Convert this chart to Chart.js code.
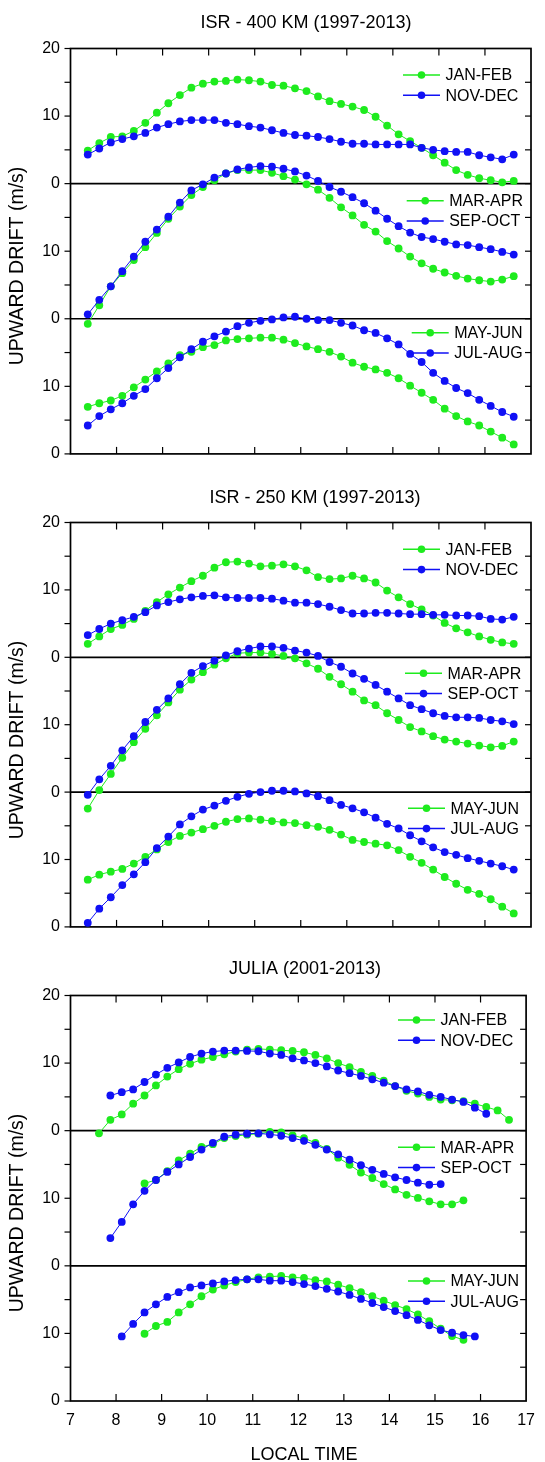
<!DOCTYPE html>
<html><head><meta charset="utf-8">
<script src="https://cdn.jsdelivr.net/npm/chart.js@4.4.1/dist/chart.umd.min.js"></script>
<style>
html,body{margin:0;padding:0;background:#fff;}
body{width:545px;height:1462px;position:relative;overflow:hidden;}
canvas{position:absolute;left:0;display:block;}
</style></head><body>
<canvas id="c1" width="545" height="474" style="top:0px"></canvas>
<canvas id="c2" width="545" height="473" style="top:474px"></canvas>
<canvas id="c3" width="545" height="515" style="top:947px"></canvas>
<script>
// ---- DATA ----
const localTime = [7.375,7.625,7.875,8.125,8.375,8.625,8.875,9.125,9.375,9.625,9.875,10.125,10.375,10.625,10.875,11.125,11.375,11.625,11.875,12.125,12.375,12.625,12.875,13.125,13.375,13.625,13.875,14.125,14.375,14.625,14.875,15.125,15.375,15.625,15.875,16.125,16.375,16.625];
const xTickLabels = ['7','8','9','10','11','12','13','14','15','16','17'];
const bandNames = [['JAN-FEB','NOV-DEC'],['MAR-APR','SEP-OCT'],['MAY-JUN','JUL-AUG']];
const bandOffsets = [40, 20, 0];
const panelTitles = ['ISR - 400 KM (1997-2013)','ISR - 250 KM (1997-2013)','JULIA (2001-2013)'];

const isr400JanFeb = [4.9,6.0,6.9,7.0,7.8,9.0,10.5,11.9,13.1,14.2,14.8,15.1,15.2,15.4,15.3,15.1,14.6,14.5,14.1,13.7,12.9,12.2,11.8,11.4,10.9,9.9,8.6,7.3,6.3,5.3,4.2,3.1,2.0,1.3,0.8,0.5,0.2,0.4];
const isr400NovDec = [4.3,5.2,6.1,6.6,7.0,7.5,8.3,8.8,9.2,9.4,9.4,9.4,9.0,8.8,8.5,8.3,7.9,7.5,7.2,7.1,6.9,6.6,6.2,5.9,5.9,5.8,5.8,5.8,5.8,5.3,5.0,4.8,4.7,4.7,4.2,3.9,3.6,4.3];
const isr400MarApr = [-0.75,2.0,4.8,6.75,8.7,10.6,12.7,14.8,16.6,18.3,19.5,20.5,21.5,22.0,22.0,22.0,21.6,21.1,20.6,19.9,19.1,17.9,16.5,15.3,13.9,12.9,11.5,10.4,9.2,8.2,7.4,6.85,6.35,5.95,5.7,5.5,5.8,6.3];
const isr400SepOct = [0.65,2.8,4.8,7.05,9.2,11.4,13.2,15.1,17.2,19.0,19.9,20.9,21.5,22.1,22.4,22.6,22.5,22.2,21.8,21.2,20.4,19.5,18.8,18.0,17.1,16.0,14.8,13.7,12.75,12.1,11.8,11.4,11.0,10.9,10.6,10.3,9.9,9.5];
const isr400MayJun = [6.97,7.5,7.9,8.6,9.85,11.0,12.2,13.4,14.6,15.1,15.8,16.1,16.8,17.0,17.1,17.2,17.2,16.9,16.4,15.9,15.5,15.1,14.4,13.5,12.9,12.5,12.0,11.2,10.1,9.05,8.0,6.7,5.6,4.8,4.2,3.3,2.4,1.4];
const isr400JulAug = [4.2,5.6,6.6,7.5,8.6,9.6,11.2,12.7,14.3,15.5,16.6,17.4,18.1,18.9,19.4,19.7,19.9,20.2,20.3,20.0,19.8,19.8,19.4,19.0,18.3,17.9,17.1,16.2,14.8,13.6,12.0,10.8,9.75,9.0,8.0,7.1,6.2,5.5];

const isr250JanFeb = [2.0,3.1,4.2,4.8,5.7,6.9,8.2,9.35,10.35,11.3,12.1,13.3,14.1,14.2,13.9,13.5,13.6,13.8,13.5,12.9,11.9,11.6,11.7,12.1,11.7,11.1,9.9,8.9,7.9,7.1,6.2,5.1,4.3,3.7,3.1,2.6,2.2,2.0];
const isr250NovDec = [3.3,4.2,5.0,5.5,6.0,6.7,7.7,8.2,8.6,8.9,9.1,9.2,8.9,8.8,8.8,8.8,8.7,8.4,8.1,8.1,7.9,7.5,7.0,6.5,6.5,6.6,6.6,6.5,6.4,6.4,6.3,6.3,6.2,6.2,6.1,5.7,5.6,6.0];
const isr250MarApr = [-2.45,0.3,2.7,5.1,7.4,9.4,11.4,13.3,15.2,16.7,17.8,18.9,19.85,20.6,20.7,20.7,20.5,20.2,19.85,19.1,18.3,17.1,16.0,14.9,13.6,12.9,11.7,10.7,9.65,9.0,8.3,7.8,7.5,7.2,6.9,6.65,6.85,7.5];
const isr250SepOct = [-0.4,1.9,3.9,6.2,8.3,10.4,12.2,13.9,16.0,17.7,18.7,19.5,20.3,20.9,21.3,21.6,21.6,21.4,21.0,20.7,20.2,19.3,18.6,17.6,16.8,15.9,14.9,13.9,12.9,12.3,11.7,11.3,11.1,11.1,11.0,10.7,10.5,10.1];
const isr250MayJun = [7.0,7.75,8.2,8.6,9.4,10.4,11.5,12.6,13.5,14.0,14.5,15.0,15.6,16.0,16.1,15.9,15.7,15.5,15.4,15.1,14.85,14.4,13.7,12.9,12.6,12.35,12.1,11.4,10.4,9.5,8.5,7.4,6.4,5.5,4.9,4.1,3.0,2.0];
const isr250JulAug = [0.6,2.7,4.4,6.2,7.8,9.6,11.7,13.4,15.2,16.4,17.4,18.0,18.7,19.3,19.75,20.0,20.2,20.2,20.1,19.8,19.4,18.8,18.1,17.6,17.0,16.2,15.3,14.6,13.6,12.7,11.8,11.1,10.7,10.2,9.8,9.4,9.0,8.5];

const juliaJanFeb = [null,-0.4,1.6,2.4,4.0,5.2,6.7,8.0,9.1,9.9,10.5,10.9,11.3,11.7,12.0,12.1,12.0,11.9,11.8,11.6,11.2,10.7,10.0,9.4,8.7,8.1,7.4,6.6,5.9,5.5,5.0,4.6,4.5,4.35,4.0,3.5,3.0,1.6];
const juliaNovDec = [null,null,5.2,5.7,6.1,7.2,8.3,9.3,10.1,10.9,11.4,11.7,11.85,11.85,11.8,11.75,11.4,11.2,10.7,10.4,10.0,9.5,8.9,8.5,8.1,7.6,7.1,6.6,6.1,5.8,5.3,5.0,4.6,4.25,3.4,2.5,null,null];
const juliaMarApr = [null,null,null,null,null,12.2,12.7,14.0,15.6,16.6,17.6,18.0,18.9,19.2,19.4,19.55,19.8,19.75,19.3,18.9,18.2,17.3,16.0,14.95,13.8,13.0,12.1,11.3,10.5,10.05,9.55,9.1,9.1,9.7,null,null,null,null];
const juliaSepOct = [null,null,4.1,6.5,9.1,11.1,12.7,13.9,15.0,16.1,17.2,18.2,19.1,19.4,19.55,19.6,19.45,19.25,18.9,18.5,17.9,17.2,16.5,15.7,14.9,14.2,13.6,13.1,12.7,12.3,12.0,12.1,null,null,null,null,null,null];
const juliaMayJun = [null,null,null,null,null,9.95,11.1,11.7,13.1,14.3,15.5,16.5,17.1,17.6,18.0,18.3,18.4,18.5,18.3,18.2,17.9,17.7,17.2,16.7,16.1,15.5,14.85,14.2,13.6,12.8,11.8,10.7,9.6,9.05,null,null,null,null];
const juliaJulAug = [null,null,null,9.55,11.4,13.1,14.3,15.4,16.1,16.8,17.1,17.4,17.7,17.9,18.0,18.0,17.8,17.8,17.6,17.3,17.0,16.6,16.2,15.7,15.1,14.5,13.9,13.3,12.7,12.0,11.2,10.5,10.1,9.75,9.55,null,null,null];

// ---- STYLE / LAYOUT ----
const GREEN = '#1eeb1e', BLUE = '#1010f5';
const FONT = "'Liberation Sans', Arial, Helvetica, sans-serif";
Chart.defaults.font.family = FONT;
Chart.defaults.font.size = 16;
Chart.defaults.color = '#000';

const panels = [
  {canvas:'c1', title:panelTitles[0], titleXY:[306,23.5], xLabels:false, xh:0, H:474,
   bands:[[isr400JanFeb,isr400NovDec],[isr400MarApr,isr400SepOct],[isr400MayJun,isr400JulAug]],
   legendPos:[[403,75],[406.7,200.7],[411.7,332.7]]},
  {canvas:'c2', title:panelTitles[1], titleXY:[315,24.4], xLabels:false, xh:0, H:473,
   bands:[[isr250JanFeb,isr250NovDec],[isr250MarApr,isr250SepOct],[isr250MayJun,isr250JulAug]],
   legendPos:[[403,75.3],[405,199.3],[408,334.3]]},
  {canvas:'c3', title:panelTitles[2], titleXY:[305,22.5], xLabels:true, xh:40, H:515,
   bands:[[juliaJanFeb,juliaNovDec],[juliaMarApr,juliaSepOct],[juliaMayJun,juliaJulAug]],
   legendPos:[[398,73],[398,200.3],[408,334]]}
];

function yLabel(v){
  if (v % 10 !== 0) return '';
  if (v === 60) return '20';
  return String(v % 20);
}

function line(ctx,x1,y1,x2,y2){ctx.beginPath();ctx.moveTo(x1,y1);ctx.lineTo(x2,y2);ctx.stroke();}

const framePlugin = {
  id:'frame',
  beforeDatasetsDraw(chart){
    const {ctx, chartArea:a, scales:{x,y}} = chart;
    ctx.save();
    ctx.strokeStyle = '#000';
    ctx.lineWidth = 1.2;
    x.ticks.forEach(t => {
      if (t.value <= x.min || t.value >= x.max) return;
      const px = x.getPixelForValue(t.value);
      line(ctx, px, a.bottom, px, a.bottom-7);
      line(ctx, px, a.top, px, a.top+7);
    });
    y.ticks.forEach(t => {
      const py = y.getPixelForValue(t.value);
      line(ctx, a.left, py, a.left-6, py);
      if (t.value > y.min && t.value < y.max) line(ctx, a.right, py, a.right-6, py);
    });
    ctx.lineWidth = 1.7;
    bandOffsets.forEach(o => { if (o > 0) { const py = y.getPixelForValue(o); line(ctx, a.left, py, a.right, py); } });
    ctx.strokeRect(a.left, a.top, a.right-a.left, a.bottom-a.top);
    ctx.restore();
  },
  afterDraw(chart){
    const p = chart.options.plugins.frame;
    const ctx = chart.ctx;
    ctx.save();
    ctx.fillStyle = '#000';
    // panel title
    ctx.font = '18px ' + FONT;
    ctx.textAlign = 'center'; ctx.textBaseline = 'middle';
    ctx.fillText(p.title, p.titleXY[0], p.titleXY[1]);
    if (p.xLabels) ctx.fillText('LOCAL TIME', 304, 508);
    // y axis title
    ctx.save();
    ctx.font = '19.5px ' + FONT;
    ctx.translate(18, 266);
    ctx.rotate(-Math.PI/2);
    ctx.fillText('UPWARD DRIFT (m/s)', 0, 0);
    ctx.restore();
    // legends
    ctx.font = '16px ' + FONT;
    ctx.textAlign = 'left';
    p.legendPos.forEach((pos, b) => {
      [GREEN, BLUE].forEach((col, k) => {
        const ly = pos[1] + k*20.3, lx = pos[0];
        ctx.strokeStyle = col; ctx.fillStyle = col; ctx.lineWidth = 1.5;
        line(ctx, lx, ly, lx+37, ly);
        ctx.beginPath(); ctx.arc(lx+18.5, ly, 3.8, 0, Math.PI*2); ctx.fill();
        ctx.fillStyle = '#000';
        ctx.fillText(bandNames[b][k], lx+42.5, ly+1);
      });
    });
    ctx.restore();
  }
};

function mk(values, offset){
  return localTime.map((t,i) => ({x:t, y: values[i] == null ? null : values[i] + offset}));
}

panels.forEach(p => {
  const datasets = [];
  p.bands.forEach((pair, b) => {
    pair.forEach((vals, k) => {
      const col = k === 0 ? GREEN : BLUE;
      datasets.push({
        label: bandNames[b][k],
        data: mk(vals, bandOffsets[b]),
        borderColor: col, backgroundColor: col,
        pointBackgroundColor: col, pointBorderColor: col,
        pointRadius: 3.9, pointBorderWidth: 0, borderWidth: 1,
        tension: 0, spanGaps: false, order: k === 0 ? 1 : 0
      });
    });
  });
  new Chart(document.getElementById(p.canvas), {
    type:'line',
    data:{datasets},
    plugins:[framePlugin],
    options:{
      responsive:false, animation:false, events:[],
      layout:{padding:{left:0, right:14, top:48.5, bottom:p.H - 454 - p.xh}},
      plugins:{legend:{display:false}, tooltip:{enabled:false}, title:{display:false},
               frame:{title:p.title, titleXY:p.titleXY, xLabels:p.xLabels, legendPos:p.legendPos}},
      scales:{
        x:{type:'linear', min:7, max:17,
           afterFit:s => { s.height = p.xh; },
           grid:{display:false, drawTicks:false}, border:{display:false},
           ticks:{display:p.xLabels, stepSize:1, autoSkip:false, maxRotation:0, padding:10,
                  callback:(v) => xTickLabels[Math.round(v-7)] }},
        y:{type:'linear', min:0, max:60,
           afterFit:s => { s.width = 70.5; },
           grid:{display:false, drawTicks:false}, border:{display:false},
           ticks:{stepSize:5, autoSkip:false, padding:10.5, callback:(v) => yLabel(v)}}
      }
    }
  });
});
</script>
</body></html>
